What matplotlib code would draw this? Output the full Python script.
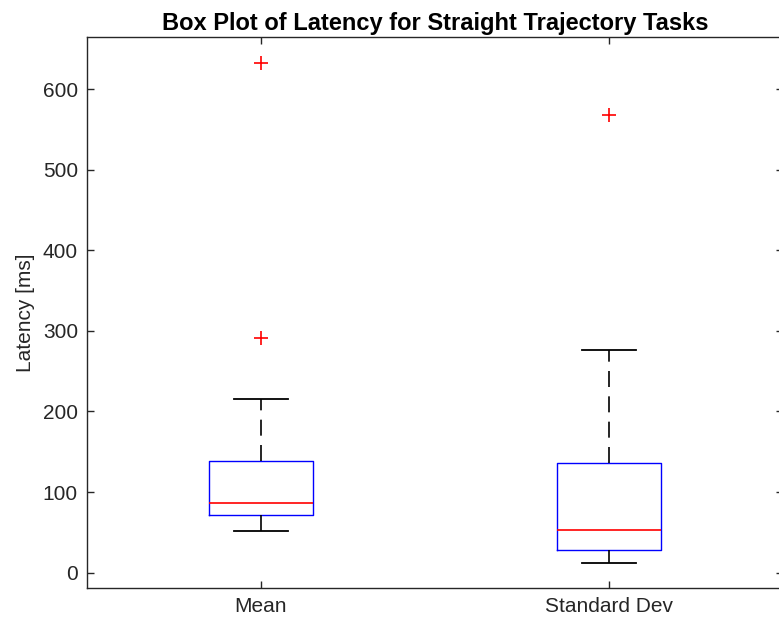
import matplotlib
matplotlib.use("Agg")
import matplotlib.pyplot as plt

plt.rcParams['font.family'] = ['Liberation Sans', 'DejaVu Sans']

# Summary statistics for each group (latency in ms)
categories = ["Mean", "Standard Dev"]
whislo = [52.1, 12.4]
q1 = [71.6, 28.2]
med = [86.5, 53.0]
q3 = [138.5, 135.7]
whishi = [215.5, 276.3]
fliers = [[632.7, 291.5], [567.4]]
yticks = [0, 100, 200, 300, 400, 500, 600]

stats = []
for i, name in enumerate(categories):
    stats.append(dict(label=name, whislo=whislo[i], q1=q1[i], med=med[i],
                      q3=q3[i], whishi=whishi[i], fliers=fliers[i]))

W, H = 779, 624
fig = plt.figure(figsize=(W / 100, H / 100), dpi=100)
left, right, top, bottom = 87, 783, 37.3, 587.7
ax = fig.add_axes([left / W, 1 - bottom / H, (right - left) / W, (bottom - top) / H])

ax.bxp(stats, positions=[1, 2], widths=0.30, showfliers=True,
       boxprops=dict(color=(0, 0, 1), linewidth=1.0),
       medianprops=dict(color=(1, 0, 0), linewidth=1.2),
       whiskerprops=dict(color='black', linewidth=1.2, linestyle=(0, (9.6, 5.6))),
       capprops=dict(color='black', linewidth=1.3),
       capwidths=0.155,
       flierprops=dict(marker='+', markeredgecolor=(1, 0, 0), markersize=10,
                       markeredgewidth=1.2, linestyle='none'))

ax.set_xlim(0.5, 2.5)
ax.set_ylim(-18.6, 664.2)
ax.set_yticks(yticks)
ax.set_xticks([1, 2])
ax.set_xticklabels(categories)

dark = (0.15, 0.15, 0.15)
for s in ax.spines.values():
    s.set_color(dark)
    s.set_linewidth(1.0)
ax.tick_params(direction='in', length=5, width=1.0, color=dark, labelcolor=dark,
               labelsize=15, top=True, right=True, pad=6.5)

ax.set_ylabel("Latency [ms]", fontsize=15, color=dark, labelpad=6)
ax.set_title("Box Plot of Latency for Straight Trajectory Tasks",
             fontsize=17, fontweight='bold', pad=5)

fig.savefig("out.png", dpi=100)
